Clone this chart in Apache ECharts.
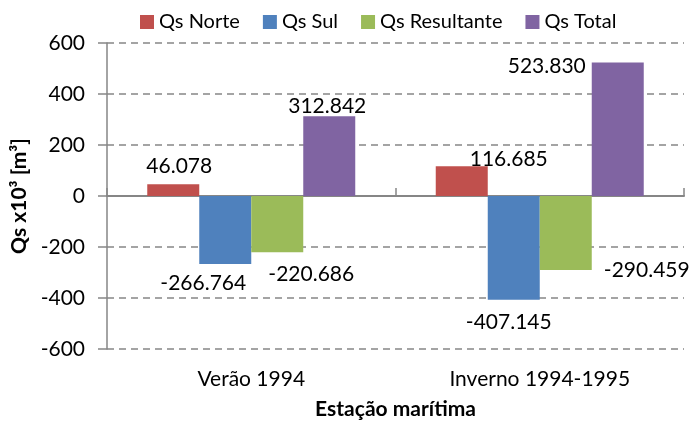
<!DOCTYPE html>
<html>
<head>
<meta charset="utf-8">
<script src="https://cdn.jsdelivr.net/npm/echarts@6/dist/echarts.min.js"></script>
<style>
  html, body { margin: 0; padding: 0; background: #fff; }
  #main { width: 691px; height: 421px; }
</style>
</head>
<body>
<div id="main"></div>
<script>
// dados
var categorias = ['Verão 1994', 'Inverno 1994-1995'];
var nomes = ['Qs Norte', 'Qs Sul', 'Qs Resultante', 'Qs Total'];
var qsNorte = [46.078, 116.685];
var qsSul = [-266.764, -407.145];
var qsResultante = [-220.686, -290.459];
var qsTotal = [312.842, 523.830];
var yTicks = [-600, -400, -200, 0, 200, 400, 600];

var cores = ['#C0504D', '#4F81BD', '#9BBB59', '#8064A2'];
// deslocamento manual dos rótulos (como no gráfico original)
var offsets = [
    [[6, -3], [47, 8]],
    [[-22, 4], [-5, 7]],
    [[34, 6], [81, -15]],
    [[-2, 6], [-71, 19]]
];

var fonte = 'Lato, "Open Sans", sans-serif';
var dom = document.getElementById('main');
var myChart = echarts.init(dom, null, {renderer: 'canvas'});

function serie(i, valores) {
    return {
        name: nomes[i],
        type: 'bar',
        xAxisIndex: 0,
        barWidth: 52,
        barGap: '0%',
        color: cores[i],
        itemStyle: {color: cores[i]},
        label: {
            show: true,
            position: 'outside',
            distance: 5,
            color: '#000',
            fontFamily: fonte,
            fontSize: 21,
            formatter: function (p) { return p.value.toFixed(3); }
        },
        data: valores.map(function (v, j) {
            return {value: v, label: {offset: offsets[i][j]}};
        })
    };
}

var option = {
    backgroundColor: '#FFFFFF',
    animation: false,
    textStyle: {fontFamily: fonte},
    legend: {
        data: nomes,
        left: 135,
        top: 7,
        itemWidth: 14,
        itemHeight: 14,
        itemGap: 23,
        icon: 'rect',
        textStyle: {fontFamily: fonte, fontSize: 20, color: '#000'}
    },
    grid: {left: 107, right: 7, top: 43, bottom: 72, outerBoundsMode: 'none', containLabel: false},
    xAxis: [
        {
            type: 'category',
            data: categorias,
            position: 'bottom',
            axisLine: {show: false, onZero: false},
            axisTick: {show: false},
            axisLabel: {fontFamily: fonte, fontSize: 21, color: '#000', margin: 20},
            name: 'Estação marítima',
            nameLocation: 'middle',
            nameGap: 50,
            nameTextStyle: {fontFamily: fonte, fontSize: 21, fontWeight: 'bold', color: '#000'}
        },
        {
            type: 'category',
            data: categorias,
            axisLine: {show: true, onZero: true, lineStyle: {color: '#868686', width: 2}},
            axisTick: {show: true, length: 8, lineStyle: {color: '#868686', width: 1.5}},
            axisLabel: {show: false}
        }
    ],
    yAxis: {
        type: 'value',
        min: yTicks[0],
        max: yTicks[yTicks.length - 1],
        interval: 200,
        axisLine: {show: true, lineStyle: {color: '#868686', width: 1.5}},
        axisTick: {show: true, length: 9, lineStyle: {color: '#868686', width: 1.5}},
        axisLabel: {fontFamily: fonte, fontSize: 21, color: '#000', margin: 22},
        splitLine: {show: true, lineStyle: {color: '#868686', type: [7, 5], width: 1.5}},
        name: 'Qs x10³ [m³]',
        nameLocation: 'middle',
        nameGap: 76,
        nameTextStyle: {fontFamily: fonte, fontSize: 21, fontWeight: 'bold', color: '#000'}
    },
    series: [
        serie(0, qsNorte),
        serie(1, qsSul),
        serie(2, qsResultante),
        serie(3, qsTotal)
    ]
};
myChart.setOption(option);
</script>
</body>
</html>
